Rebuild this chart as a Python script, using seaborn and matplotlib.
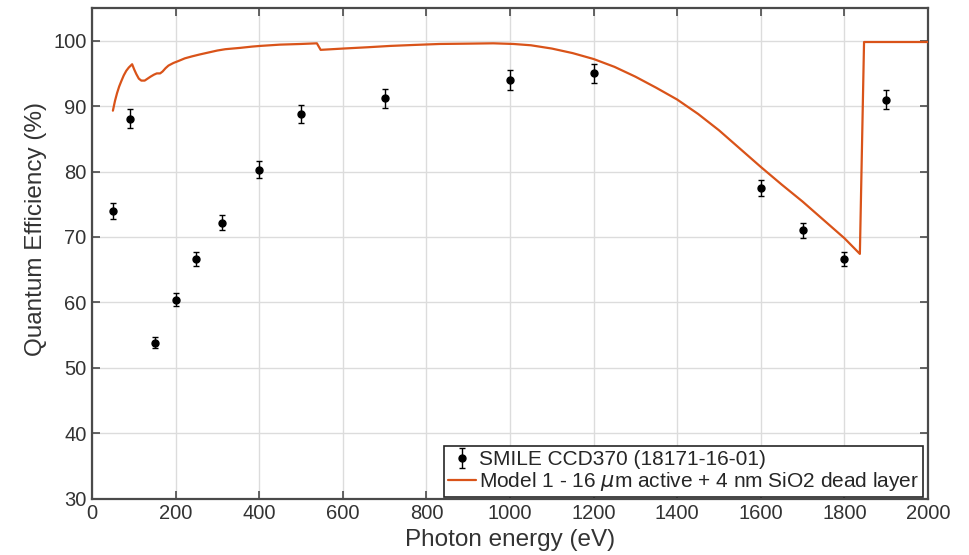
import numpy as np
import pandas as pd
import matplotlib
matplotlib.use("Agg")
import matplotlib.pyplot as plt
import seaborn as sns

# Measured QE points (SMILE CCD370)
energy_ev = [50, 90, 150, 200, 250, 310, 400, 500, 700, 1000, 1200, 1600, 1700, 1800, 1900]
qe_meas = [74.0, 88.1, 53.8, 60.4, 66.6, 72.2, 80.3, 88.8, 91.2, 94.0, 95.0, 77.5, 71.0, 66.6, 91.0]
qe_err = [1.2, 1.4, 0.85, 1.0, 1.05, 1.15, 1.3, 1.4, 1.45, 1.5, 1.5, 1.25, 1.15, 1.05, 1.45]

# Model QE curve: 16 um active + 4 nm SiO2 dead layer
model_ev = [50, 55, 60, 65, 70, 76, 82, 88, 96, 101, 106, 112, 118, 126, 133, 140, 148, 155,
            163, 169, 176, 183, 195, 207, 222, 239, 258, 279, 300, 319, 354, 383, 402, 450,
            500, 538, 547, 601, 660, 713, 770, 832, 900, 960, 1008, 1050, 1100, 1150, 1200,
            1250, 1300, 1350, 1400, 1450, 1500, 1550, 1600, 1650, 1700, 1750, 1800, 1837,
            1847, 2000]
model_qe = [89.3, 90.8, 92.0, 93.0, 93.8, 94.7, 95.4, 95.9, 96.4, 95.6, 94.9, 94.2, 93.9, 93.9,
            94.2, 94.5, 94.8, 95.0, 95.0, 95.3, 95.8, 96.2, 96.6, 96.9, 97.3, 97.6, 97.9, 98.2,
            98.5, 98.7, 98.9, 99.1, 99.2, 99.4, 99.5, 99.6, 98.6, 98.8, 99.0, 99.2, 99.35, 99.5,
            99.55, 99.6, 99.5, 99.3, 98.8, 98.1, 97.2, 96.0, 94.5, 92.8, 91.0, 88.8, 86.3, 83.5,
            80.7, 78.0, 75.4, 72.6, 69.8, 67.4, 99.8, 99.8]

x_ticks = [0, 200, 400, 600, 800, 1000, 1200, 1400, 1600, 1800, 2000]
y_ticks = [30, 40, 50, 60, 70, 80, 90, 100]

sns.set_theme(style="whitegrid")
plt.rcParams["font.family"] = ["Liberation Sans", "DejaVu Sans"]
plt.rcParams["mathtext.fontset"] = "dejavusans"

axis_col = "#4a4a4a"
text_col = "#333333"
orange = "#D95319"

fig = plt.figure(figsize=(9.7, 5.55), dpi=100)
ax = fig.add_axes([92 / 970, 1 - 498.5 / 555, 836 / 970, 490.5 / 555])

model_df = pd.DataFrame({"energy": model_ev, "qe": model_qe})
sns.lineplot(data=model_df, x="energy", y="qe", ax=ax, color=orange, lw=1.6,
             label=r"Model 1 - 16 $\mu$m active + 4 nm SiO2 dead layer", zorder=3,
             sort=False)

ax.errorbar(energy_ev, qe_meas, yerr=qe_err, fmt="o", color="black", ms=5,
            elinewidth=1.0, capsize=2.5, capthick=1.0, zorder=4,
            label="SMILE CCD370 (18171-16-01)")

ax.set_xlim(0, 2000)
ax.set_ylim(30, 105)
ax.set_xticks(x_ticks)
ax.set_yticks(y_ticks)
ax.set_xlabel("Photon energy (eV)", fontsize=17.5, color=text_col, labelpad=4)
ax.set_ylabel("Quantum Efficiency (%)", fontsize=17.5, color=text_col)
ax.yaxis.set_label_coords(-0.054, 0.55)

ax.grid(True, color="#dcdcdc", lw=1.0)
ax.set_facecolor("white")
for sp in ax.spines.values():
    sp.set_visible(True)
    sp.set_color(axis_col)
    sp.set_linewidth(1.6)
ax.tick_params(direction="in", length=6, width=1.2, color=axis_col,
               labelsize=14.5, labelcolor=text_col, top=True, right=True,
               bottom=True, left=True, pad=4)

handles, labels = ax.get_legend_handles_labels()
order = [labels.index("SMILE CCD370 (18171-16-01)"),
         labels.index(r"Model 1 - 16 $\mu$m active + 4 nm SiO2 dead layer")]
leg = ax.legend([handles[i] for i in order], [labels[i] for i in order],
                loc="lower right", bbox_to_anchor=(923 / 970, 1 - 497.5 / 555),
                bbox_transform=fig.transFigure, borderaxespad=0, fontsize=15.0,
                frameon=True, fancybox=False, framealpha=1, edgecolor="#262626",
                handlelength=1.3, handletextpad=0.15, borderpad=0.2,
                labelspacing=0.05)
leg.get_frame().set_linewidth(1.2)

fig.savefig("out.png", dpi=100, facecolor="white")
